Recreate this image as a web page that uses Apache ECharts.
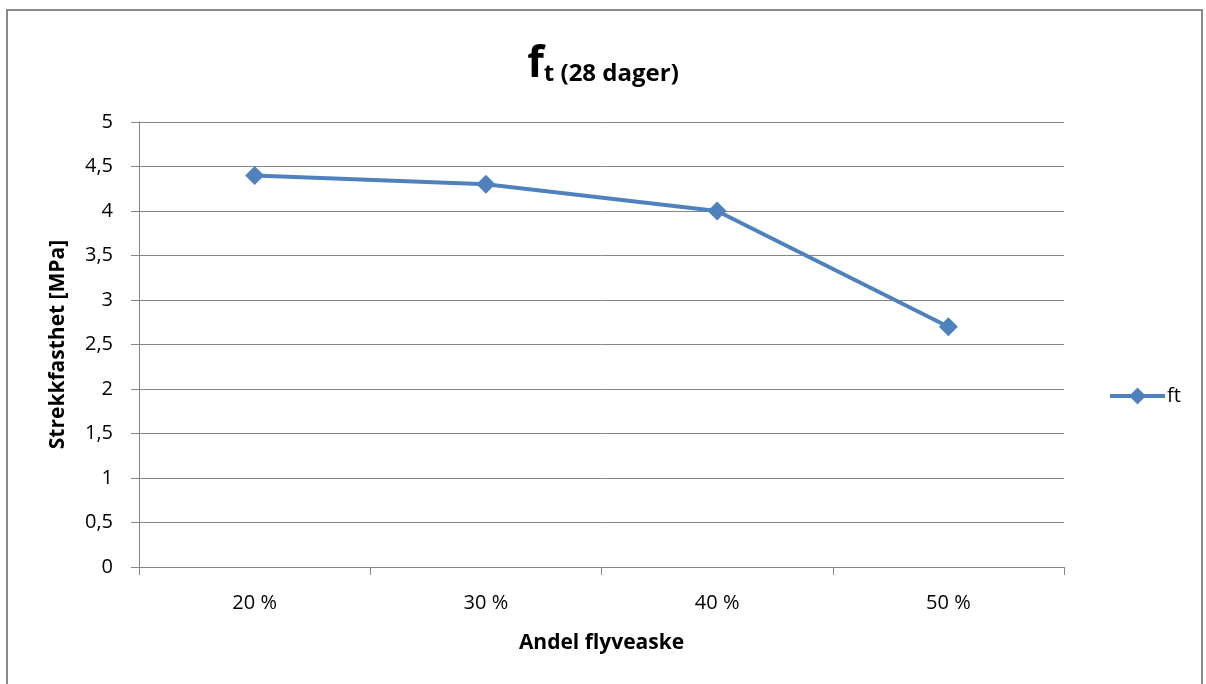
<!DOCTYPE html>
<html>
<head>
<meta charset="utf-8">
<script src="https://cdn.jsdelivr.net/npm/echarts@6/dist/echarts.min.js"></script>
<style>
  html, body { margin: 0; padding: 0; background: #fff; }
  #frame { position: absolute; left: 6px; top: 9px; width: 1197px; height: 700px; border: 2px solid #898989; box-sizing: border-box; }
  #chart { position: absolute; left: 0; top: 0; width: 1206px; height: 684px; }
</style>
</head>
<body>
<div id="frame"></div>
<div id="chart"></div>
<script>
// Fly-ash share and 28-day tensile strength
const categories = ['20 %', '30 %', '40 %', '50 %'];
const ftValues = [4.4, 4.3, 4.0, 2.7];
const seriesName = 'ft';
const yTickLabels = ['0', '0,5', '1', '1,5', '2', '2,5', '3', '3,5', '4', '4,5', '5'];

const FONT = '"Open Sans", Lato, sans-serif';
const BLUE = '#4F81BD';
const GREY = '#868686';

const chart = echarts.init(document.getElementById('chart'), null, { renderer: 'canvas' });
chart.setOption({
  backgroundColor: 'transparent',
  animation: false,
  title: {
    text: '{f|f}{t|t (28 dager)}',
    left: 'center',
    top: 38,
    textStyle: {
      rich: {
        f: { fontFamily: FONT, fontWeight: 'bold', fontSize: 43, color: '#000', verticalAlign: 'bottom' },
        t: { fontFamily: FONT, fontWeight: 'bold', fontSize: 24, color: '#000', verticalAlign: 'bottom' }
      }
    }
  },
  legend: {
    data: [seriesName],
    left: 1103,
    top: 381,
    itemWidth: 55,
    itemHeight: 21,
    itemGap: 4,
    lineStyle: { width: 4 },
    itemStyle: { borderWidth: 0 },
    textStyle: { fontFamily: FONT, fontSize: 20, color: '#000', padding: [0, 0, 0, -3] }
  },
  grid: { left: 139, right: 142, top: 122, bottom: 117, containLabel: false },
  xAxis: {
    type: 'category',
    data: categories,
    boundaryGap: true,
    name: 'Andel flyveaske',
    nameLocation: 'middle',
    nameGap: 66,
    nameTextStyle: { fontFamily: FONT, fontWeight: 'bold', fontSize: 21, color: '#000' },
    axisLine: { lineStyle: { color: GREY, width: 1 } },
    axisTick: { show: true, length: 8, inside: false, lineStyle: { color: GREY } },
    axisLabel: { fontFamily: FONT, fontSize: 20, color: '#000', margin: 26 }
  },
  yAxis: {
    type: 'value',
    min: 0,
    max: 5,
    interval: 0.5,
    name: 'Strekkfasthet [MPa]',
    nameLocation: 'middle',
    nameGap: 70,
    nameRotate: 90,
    nameTextStyle: { fontFamily: FONT, fontWeight: 'bold', fontSize: 21, color: '#000' },
    axisLine: { show: true, lineStyle: { color: GREY, width: 1 } },
    axisTick: { show: true, length: 8, inside: false, lineStyle: { color: GREY } },
    axisLabel: {
      fontFamily: FONT, fontSize: 20, color: '#000', margin: 26,
      formatter: (v) => yTickLabels[Math.round(v * 2)]
    },
    splitLine: { show: true, lineStyle: { color: GREY, width: 1 } }
  },
  series: [{
    name: seriesName,
    type: 'line',
    data: ftValues,
    symbol: 'diamond',
    symbolSize: 19,
    lineStyle: { color: BLUE, width: 4 },
    itemStyle: { color: BLUE },
    z: 5
  }]
});
</script>
</body>
</html>
